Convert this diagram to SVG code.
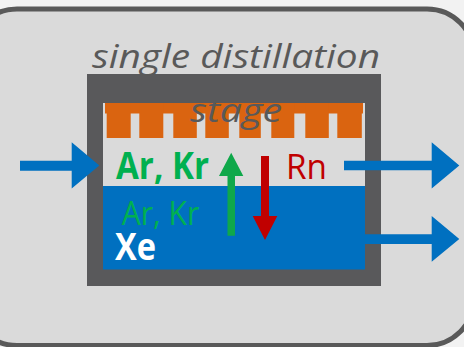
<svg xmlns="http://www.w3.org/2000/svg" width="464" height="347" viewBox="0 0 464 347">
<style>
text{font-family:"Open Sans","Liberation Sans",sans-serif}
.title{font-style:italic;font-size:33px;fill:#595959}
.blue{fill:#0070c0}
</style>
<rect width="464" height="347" fill="#f2f2f2"/>
<rect x="-30" y="9" width="504" height="336.5" rx="47" fill="#dadada" stroke="#595959" stroke-width="5"/>
<g id="stage">
<rect x="87" y="74" width="294" height="212" fill="#59595b"/>
<rect x="103" y="103" width="262" height="83" fill="#dadada"/>
<rect x="103" y="186" width="262" height="83.5" fill="#0070c0"/>
<g fill="#da6410">
<rect x="105" y="103" width="258" height="10.5"/>
<rect x="106.7" y="103" width="24" height="35"/>
<rect x="139.3" y="103" width="24" height="35"/>
<rect x="173.3" y="103" width="23.5" height="35"/>
<rect x="205.3" y="103" width="23.5" height="35"/>
<rect x="239.3" y="103" width="21.5" height="35"/>
<rect x="271.3" y="103" width="23" height="35"/>
<rect x="305.3" y="103" width="23.5" height="35"/>
<rect x="337.3" y="103" width="24.5" height="35"/>
</g>
</g>
<g id="labels">
<text class="title" x="236" y="68" text-anchor="middle" textLength="288" lengthAdjust="spacingAndGlyphs">single distillation</text>
<text class="title" x="236" y="121.5" text-anchor="middle" textLength="92" lengthAdjust="spacingAndGlyphs">stage</text>
<text x="116" y="178.8" font-size="37" font-weight="bold" fill="#00b050" textLength="93" lengthAdjust="spacingAndGlyphs">Ar, Kr</text>
<text x="286" y="179.3" font-size="35" fill="#c00000" textLength="41" lengthAdjust="spacingAndGlyphs">Rn</text>
<text x="121.7" y="225.3" font-size="32" fill="#00b050" textLength="77.6" lengthAdjust="spacingAndGlyphs">Ar, Kr</text>
<text x="115" y="260" font-size="37" font-weight="bold" fill="#ffffff" textLength="41" lengthAdjust="spacingAndGlyphs">Xe</text>
</g>
<g id="connectors">
<path class="blue" d="M20,160.8 H71.7 V142.3 L99.3,165.5 L71.7,188.5 V170.8 H20 Z"/>
<path class="blue" d="M344,160.8 H431.7 V142.3 L459.3,165.5 L431.7,188.5 V170.3 H344 Z"/>
<path class="blue" d="M360,234.3 H431.7 V216 L459.3,239 L431.7,261.8 V244 H360 Z"/>
<path fill="#0fa84a" d="M227.5,235.7 V176 H219 L231.2,152.7 L243.3,176 H235 V235.7 Z"/>
<path fill="#c00000" d="M261,156 V216 H252.7 L265,240 L277.3,216 H269 V156 Z"/>
</g>
</svg>
